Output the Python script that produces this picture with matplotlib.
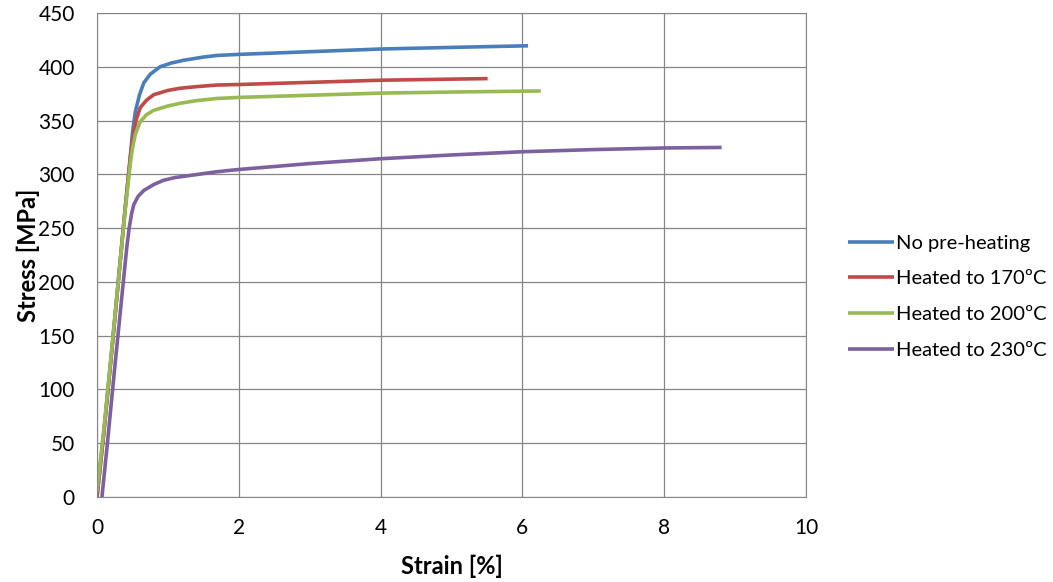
import matplotlib
matplotlib.use("Agg")
import matplotlib.pyplot as plt

plt.rcParams['font.family'] = ['Lato', 'DejaVu Sans']

# tensile curves, strain [%] vs stress [MPa]
strain_none = [0, 0.1, 0.2, 0.3, 0.4, 0.47, 0.5, 0.54, 0.6, 0.66, 0.75, 0.89, 1.05, 1.22,
               1.5, 1.69, 2, 3, 4, 5, 6.08]
stress_none = [0, 62, 130, 200, 270, 316, 338, 358, 374, 385, 393, 400, 403.5, 406,
               409, 410.5, 411.5, 414, 416.5, 418, 419.5]

strain_170 = [0, 0.1, 0.2, 0.3, 0.4, 0.47, 0.5, 0.55, 0.61, 0.7, 0.8, 1.0, 1.17, 1.4,
              1.69, 2, 3, 4, 5, 5.51]
stress_170 = [0, 62, 130, 200, 270, 316, 332, 350, 362, 369, 374, 378, 380, 381.5,
              383, 383.5, 385.5, 387.5, 388.5, 389]

strain_200 = [0, 0.1, 0.2, 0.3, 0.4, 0.47, 0.5, 0.54, 0.61, 0.7, 0.8, 1.0, 1.17, 1.4,
              1.69, 2, 3, 4, 5, 6.26]
stress_200 = [5, 65, 132, 200, 268, 310, 324, 337, 349, 355.5, 359.5, 363.5, 366, 368.5,
              370.5, 371.5, 373.5, 375.5, 376.5, 377.5]

strain_230 = [0.07, 0.15, 0.25, 0.37, 0.42, 0.456, 0.49, 0.52, 0.58, 0.66, 0.8, 0.94,
              1.1, 1.32, 1.69, 2, 3, 4, 5, 6, 7, 8, 8.81]
stress_230 = [0, 52, 120, 199, 232, 251, 264, 272, 279.5, 285, 290.5, 294.5,
              297, 299, 302.4, 304.5, 310, 314.5, 318, 321, 323, 324.5, 325]

labels = ['No pre-heating', 'Heated to 170ºC', 'Heated to 200ºC', 'Heated to 230ºC']
colors = ['#4a7ebb', '#be4b48', '#98b954', '#7d60a0']

fig = plt.figure(figsize=(10.53, 5.82), dpi=100)
ax = fig.add_axes([0.0921, 0.146, 0.6733, 0.8317])

series = [(strain_none, stress_none), (strain_170, stress_170),
          (strain_200, stress_200), (strain_230, stress_230)]
for (x, y), lab, col in zip(series, labels, colors):
    ax.plot(x, y, color=col, lw=2.6, label=lab, solid_capstyle='butt',
            solid_joinstyle='round')

ax.set_xlim(0, 10)
ax.set_ylim(0, 450)
ax.set_xticks(range(0, 11, 2))
ax.set_yticks(range(0, 451, 50))
ax.grid(True, color='#868686', lw=0.9)
ax.set_axisbelow(True)
for sp in ax.spines.values():
    sp.set_color('#868686')
ax.tick_params(axis='x', length=0, labelsize=15, pad=15)
ax.tick_params(axis='y', length=0, labelsize=15, pad=16)

ax.set_xlabel('Strain [%]', fontsize=17, fontweight='bold', labelpad=12)
ax.set_ylabel('Stress [MPa]', fontsize=17, fontweight='bold', labelpad=-1)

fig.legend(loc='center left', bbox_to_anchor=(0.788, 0.49), frameon=False,
           fontsize=14.5, handlelength=2.3, handletextpad=0.1, labelspacing=0.93)

fig.savefig('out.png', dpi=100)
